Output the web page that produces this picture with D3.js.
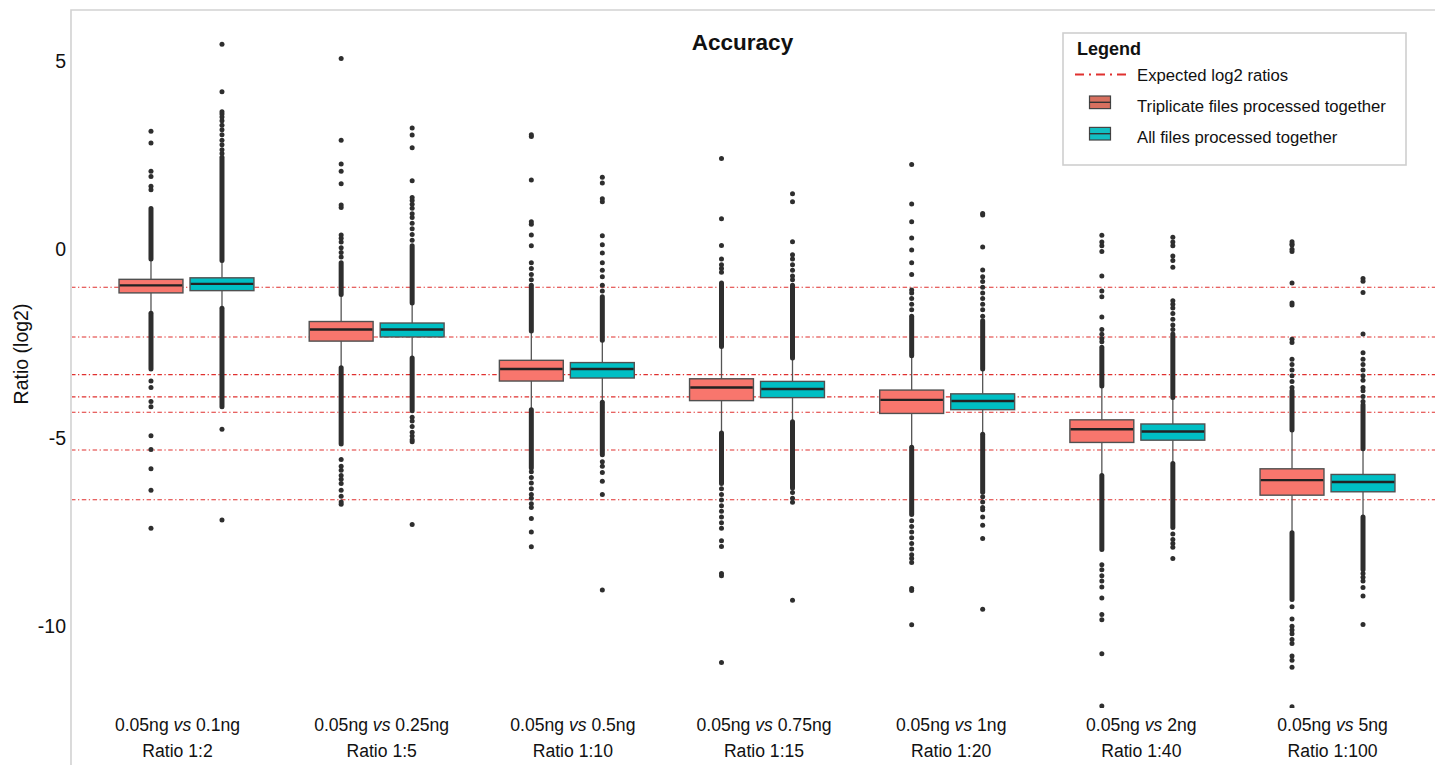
<!DOCTYPE html>
<html>
<head>
<meta charset="utf-8">
<script src="https://cdn.jsdelivr.net/npm/d3@7"></script>
<style>
  body { margin: 0; background: #fff; }
  svg { display: block; }
  text { font-family: "Liberation Sans", Arial, Helvetica, sans-serif; fill: #111; }
</style>
</head>
<body>
<svg id="chart" width="1435" height="765"></svg>
<script>
// ---- Data ---------------------------------------------------------------
const referenceAmount = "0.05ng";
const comparedAmounts = ["0.1ng", "0.25ng", "0.5ng", "0.75ng", "1ng", "2ng", "5ng"];
const ratioLabels = ["Ratio 1:2", "Ratio 1:5", "Ratio 1:10", "Ratio 1:15", "Ratio 1:20", "Ratio 1:40", "Ratio 1:100"];
const expectedLog2 = [-1, -2.32, -3.32, -3.91, -4.32, -5.32, -6.64];
const yTickValues = [5, 0, -5, -10];
const seriesNames = ["Triplicate files processed together", "All files processed together"];
const seriesColors = ["#F8766D", "#00BFC4"];
const legendSwatchColors = ["#D8705F", "#12BFC2"];

// Triplicate files processed together
const triLowerWhisker = [-1.69, -3.14, -4.25, -4.87, -5.25, -6.00, -7.52];
const triQ1 = [-1.15, -2.43, -3.49, -4.01, -4.35, -5.12, -6.52];
const triMedian = [-0.95, -2.12, -3.17, -3.66, -3.99, -4.77, -6.12];
const triQ3 = [-0.79, -1.91, -2.94, -3.43, -3.73, -4.52, -5.82];
const triUpperWhisker = [-0.25, -1.19, -2.16, -2.57, -2.82, -3.62, -4.79];
// dense runs of outliers continuing straight past each whisker end
const triDenseLow = [-3.17, -5.16, -5.80, -6.21, -7.03, -7.96, -9.29];
const triDenseHigh = [1.09, -0.35, -0.95, -0.89, -1.77, -2.59, -3.75];
const triOutliers = [
  [1.59, 1.68, 1.94, 2.08, 2.83, 3.14, -3.49, -3.66, -4.03, -4.17, -4.94, -5.31, -5.82, -6.39, -7.40],
  [-0.20, -0.08, 0.05, 0.20, 0.30, 0.39, 1.12, 1.18, 1.75, 2.08, 2.27, 2.90, 5.07, -5.57, -5.75, -5.86, -6.00, -6.10, -6.21, -6.39, -6.55, -6.70, -6.76],
  [-0.80, -0.66, -0.50, -0.35, 0.10, 0.39, 0.67, 0.74, 1.85, 3.00, 3.05, -5.90, -6.05, -6.20, -6.35, -6.50, -6.60, -6.75, -6.85, -7.14, -7.50, -7.89],
  [-0.60, -0.50, -0.40, -0.25, 0.11, 0.82, 2.42, -6.35, -6.50, -6.65, -6.80, -6.95, -7.10, -7.25, -7.40, -7.73, -7.88, -8.60, -8.66, -10.96],
  [-1.60, -1.45, -1.30, -1.15, -1.07, -0.66, -0.35, -0.01, 0.31, 0.74, 1.21, 2.26, -7.20, -7.35, -7.50, -7.65, -7.80, -7.95, -8.10, -8.20, -8.31, -9.00, -9.05, -9.96],
  [-2.45, -2.36, -2.25, -2.12, -1.79, -1.25, -1.10, -0.70, -0.05, 0.10, 0.20, 0.38, -8.37, -8.50, -8.66, -8.80, -8.96, -9.25, -9.69, -9.83, -10.73, -12.12],
  [-3.66, -3.50, -3.35, -3.20, -3.05, -2.91, -2.47, -2.38, -1.47, -1.42, -0.89, -0.05, 0.01, 0.12, 0.15, 0.21, -9.48, -9.81, -10.00, -10.10, -10.20, -10.35, -10.46, -10.79, -10.90, -11.09, -12.14]
];

// All files processed together
const allLowerWhisker = [-1.56, -2.88, -4.05, -4.57, -4.90, -5.68, -7.10];
const allQ1 = [-1.09, -2.32, -3.41, -3.93, -4.25, -5.06, -6.43];
const allMedian = [-0.91, -2.12, -3.17, -3.70, -4.02, -4.83, -6.17];
const allQ3 = [-0.75, -1.95, -3.00, -3.50, -3.83, -4.63, -5.97];
const allUpperWhisker = [-0.29, -1.42, -2.41, -2.88, -3.17, -3.93, -5.29];
const allDenseLow = [-4.17, -4.28, -5.45, -6.33, -6.44, -7.38, -8.50];
const allDenseHigh = [2.45, 0.10, -1.25, -0.95, -1.89, -2.24, -4.12];
const allOutliers = [
  [2.55, 2.65, 2.78, 2.90, 3.05, 3.18, 3.30, 3.42, 3.52, 3.60, 3.66, 4.19, 5.45, -4.77, -7.18],
  [0.25, 0.40, 0.55, 0.70, 0.85, 0.95, 1.10, 1.20, 1.30, 1.38, 1.83, 2.70, 3.04, 3.23, -4.45, -4.55, -4.70, -4.85, -4.95, -5.05, -5.10, -7.30],
  [-1.10, -0.95, -0.72, -0.55, -0.35, -0.09, 0.13, 0.37, 1.27, 1.35, 1.77, 1.92, -5.63, -5.75, -5.92, -6.15, -6.50, -9.04],
  [-0.80, -0.70, -0.55, -0.40, -0.25, -0.14, 0.21, 1.27, 1.48, -6.45, -6.60, -6.71, -9.31],
  [-1.77, -1.60, -1.45, -1.30, -1.15, -1.00, -0.85, -0.72, -0.54, 0.07, 0.92, 0.96, -6.56, -6.70, -6.85, -6.91, -7.10, -7.32, -7.67, -9.55],
  [-2.12, -2.00, -1.85, -1.70, -1.55, -1.45, -1.36, -0.47, -0.29, -0.17, 0.10, 0.20, 0.33, -7.55, -7.70, -7.80, -7.90, -8.20],
  [-4.03, -3.90, -3.75, -3.66, -3.47, -3.35, -3.20, -3.05, -2.91, -2.74, -2.24, -1.14, -0.84, -0.77, -8.60, -8.70, -8.80, -8.97, -9.20, -9.95]
];

// ---- Assemble series ----------------------------------------------------
const series = [
  { key: "tri", name: seriesNames[0], color: seriesColors[0], swatch: legendSwatchColors[0],
    lo: triLowerWhisker, q1: triQ1, med: triMedian, q3: triQ3, hi: triUpperWhisker,
    denseLo: triDenseLow, denseHi: triDenseHigh, out: triOutliers },
  { key: "all", name: seriesNames[1], color: seriesColors[1], swatch: legendSwatchColors[1],
    lo: allLowerWhisker, q1: allQ1, med: allMedian, q3: allQ3, hi: allUpperWhisker,
    denseLo: allDenseLow, denseHi: allDenseHigh, out: allOutliers }
];

const boxes = [];
comparedAmounts.forEach((amt, i) => {
  series.forEach(s => {
    boxes.push({ group: i, key: s.key, color: s.color,
      lo: s.lo[i], q1: s.q1[i], med: s.med[i], q3: s.q3[i], hi: s.hi[i],
      denseLo: s.denseLo[i], denseHi: s.denseHi[i], out: s.out[i] });
  });
});

// ---- Layout -------------------------------------------------------------
const svg = d3.select("#chart");
const panel = { left: 71, top: 10, right: 1435, bottom: 708 };
// horizontal nudge of each two-line category label relative to its group centre
const labelShift = [-9, 5, 6, 7, 4, 4, 5];

const x = d3.scaleBand()
  .domain(d3.range(comparedAmounts.length))
  .range([91.4, 1422.6])
  .paddingInner(0.2533)
  .paddingOuter(0.12665);

const xSub = d3.scaleBand()
  .domain(series.map(s => s.key))
  .range([0, x.bandwidth()]);

const boxWidth = xSub.bandwidth() * 0.9;
const cx = d => x(d.group) + xSub(d.key) + xSub.bandwidth() / 2;

const y = d3.scaleLinear()
  .domain([-12.17, 6.36])
  .range([panel.bottom, panel.top]);

// panel frame (left and top edges)
svg.append("path")
  .attr("d", `M${panel.left},765V${panel.top}H${panel.right}`)
  .attr("fill", "none")
  .attr("stroke", "#d2d2d2")
  .attr("stroke-width", 1.6);

svg.append("defs").append("clipPath").attr("id", "panel-clip")
  .append("rect")
  .attr("x", panel.left + 1).attr("y", panel.top + 1)
  .attr("width", panel.right - panel.left - 1)
  .attr("height", panel.bottom - panel.top - 1);

const plot = svg.append("g").attr("clip-path", "url(#panel-clip)");

// expected log2 ratio reference lines
plot.append("g").selectAll("line")
  .data(expectedLog2)
  .join("line")
  .attr("x1", panel.left).attr("x2", panel.right)
  .attr("y1", d => y(d)).attr("y2", d => y(d))
  .attr("stroke", "#E0302F")
  .attr("stroke-width", 1.1)
  .attr("stroke-dasharray", "4.5,2.5,1.3,2.5");

const g = plot.append("g").selectAll("g.box")
  .data(boxes)
  .join("g").attr("class", "box");

// whiskers
g.append("line")
  .attr("x1", cx).attr("x2", cx)
  .attr("y1", d => y(d.hi)).attr("y2", d => y(d.q3))
  .attr("stroke", "#555").attr("stroke-width", 1.3);
g.append("line")
  .attr("x1", cx).attr("x2", cx)
  .attr("y1", d => y(d.q1)).attr("y2", d => y(d.lo))
  .attr("stroke", "#555").attr("stroke-width", 1.3);

// dense outlier runs beyond the whiskers
g.append("line")
  .attr("x1", cx).attr("x2", cx)
  .attr("y1", d => y(d.hi)).attr("y2", d => y(d.denseHi))
  .attr("stroke", "#2e2e2e").attr("stroke-width", 5).attr("stroke-linecap", "round");
g.append("line")
  .attr("x1", cx).attr("x2", cx)
  .attr("y1", d => y(d.lo)).attr("y2", d => y(d.denseLo))
  .attr("stroke", "#2e2e2e").attr("stroke-width", 5).attr("stroke-linecap", "round");

// individual outliers
g.selectAll("circle")
  .data(d => d.out.map(v => ({ v, b: d })))
  .join("circle")
  .attr("cx", d => cx(d.b))
  .attr("cy", d => y(d.v))
  .attr("r", 2.5)
  .attr("fill", "#2e2e2e");

// boxes
g.append("rect")
  .attr("x", d => cx(d) - boxWidth / 2)
  .attr("width", boxWidth)
  .attr("y", d => y(d.q3))
  .attr("height", d => y(d.q1) - y(d.q3))
  .attr("fill", d => d.color)
  .attr("stroke", "#505050")
  .attr("stroke-width", 1.4);

// medians
g.append("line")
  .attr("x1", d => cx(d) - boxWidth / 2 + 0.7)
  .attr("x2", d => cx(d) + boxWidth / 2 - 0.7)
  .attr("y1", d => y(d.med)).attr("y2", d => y(d.med))
  .attr("stroke", "#222").attr("stroke-width", 2.4);

// ---- Axes ---------------------------------------------------------------
const yAxis = svg.append("g")
  .attr("transform", `translate(${panel.left},0)`)
  .call(d3.axisLeft(y).tickValues(yTickValues).tickSize(0).tickPadding(5).tickFormat(d => String(d)));
yAxis.select(".domain").remove();
yAxis.selectAll("text")
  .style("font-size", "19.5px")
  .attr("fill", "#111");

svg.append("text")
  .attr("transform", "translate(28,354) rotate(-90)")
  .attr("text-anchor", "middle")
  .style("font-size", "19.5px")
  .text("Ratio (log2)");

// category labels, two lines each
const xLabels = svg.append("g").selectAll("text")
  .data(comparedAmounts)
  .join("text")
  .attr("text-anchor", "middle")
  .style("font-size", "17.6px");
xLabels.each(function (amt, i) {
  const t = d3.select(this);
  const cxl = x(i) + x.bandwidth() / 2 + labelShift[i];
  const l1 = t.append("tspan").attr("x", cxl).attr("y", 731);
  l1.append("tspan").text(referenceAmount + " ");
  l1.append("tspan").style("font-style", "italic").text("vs");
  l1.append("tspan").text(" " + amt);
  t.append("tspan").attr("x", cxl).attr("y", 757).text(ratioLabels[i]);
});

// title
svg.append("text")
  .attr("x", 742.5).attr("y", 50)
  .attr("text-anchor", "middle")
  .style("font-size", "22.5px")
  .style("font-weight", "bold")
  .text("Accuracy");

// ---- Legend -------------------------------------------------------------
const legend = svg.append("g");
legend.append("rect")
  .attr("x", 1063).attr("y", 33).attr("width", 343).attr("height", 132)
  .attr("fill", "#fff").attr("stroke", "#cfcfcf").attr("stroke-width", 1.6);
legend.append("text")
  .attr("x", 1077).attr("y", 54.5)
  .style("font-size", "18px").style("font-weight", "bold")
  .text("Legend");

legend.append("line")
  .attr("x1", 1075).attr("x2", 1126).attr("y1", 74.5).attr("y2", 74.5)
  .attr("stroke", "#E0302F").attr("stroke-width", 1.8)
  .attr("stroke-dasharray", "9,5,2,5");
legend.append("text")
  .attr("x", 1137).attr("y", 80.5)
  .style("font-size", "16.7px")
  .text("Expected log2 ratios");

const legendRows = [102.3, 133.7];
series.forEach((s, i) => {
  const cy = legendRows[i];
  legend.append("rect")
    .attr("x", 1089.5).attr("y", cy - 6.3).attr("width", 21).attr("height", 12.6)
    .attr("fill", s.swatch).attr("stroke", "#444").attr("stroke-width", 1.2);
  legend.append("line")
    .attr("x1", 1089.5).attr("x2", 1110.5).attr("y1", cy).attr("y2", cy)
    .attr("stroke", "#333").attr("stroke-width", 1.4);
  legend.append("text")
    .attr("x", 1137).attr("y", cy + 9.3)
    .style("font-size", "16.7px")
    .text(s.name);
});
</script>
</body>
</html>
